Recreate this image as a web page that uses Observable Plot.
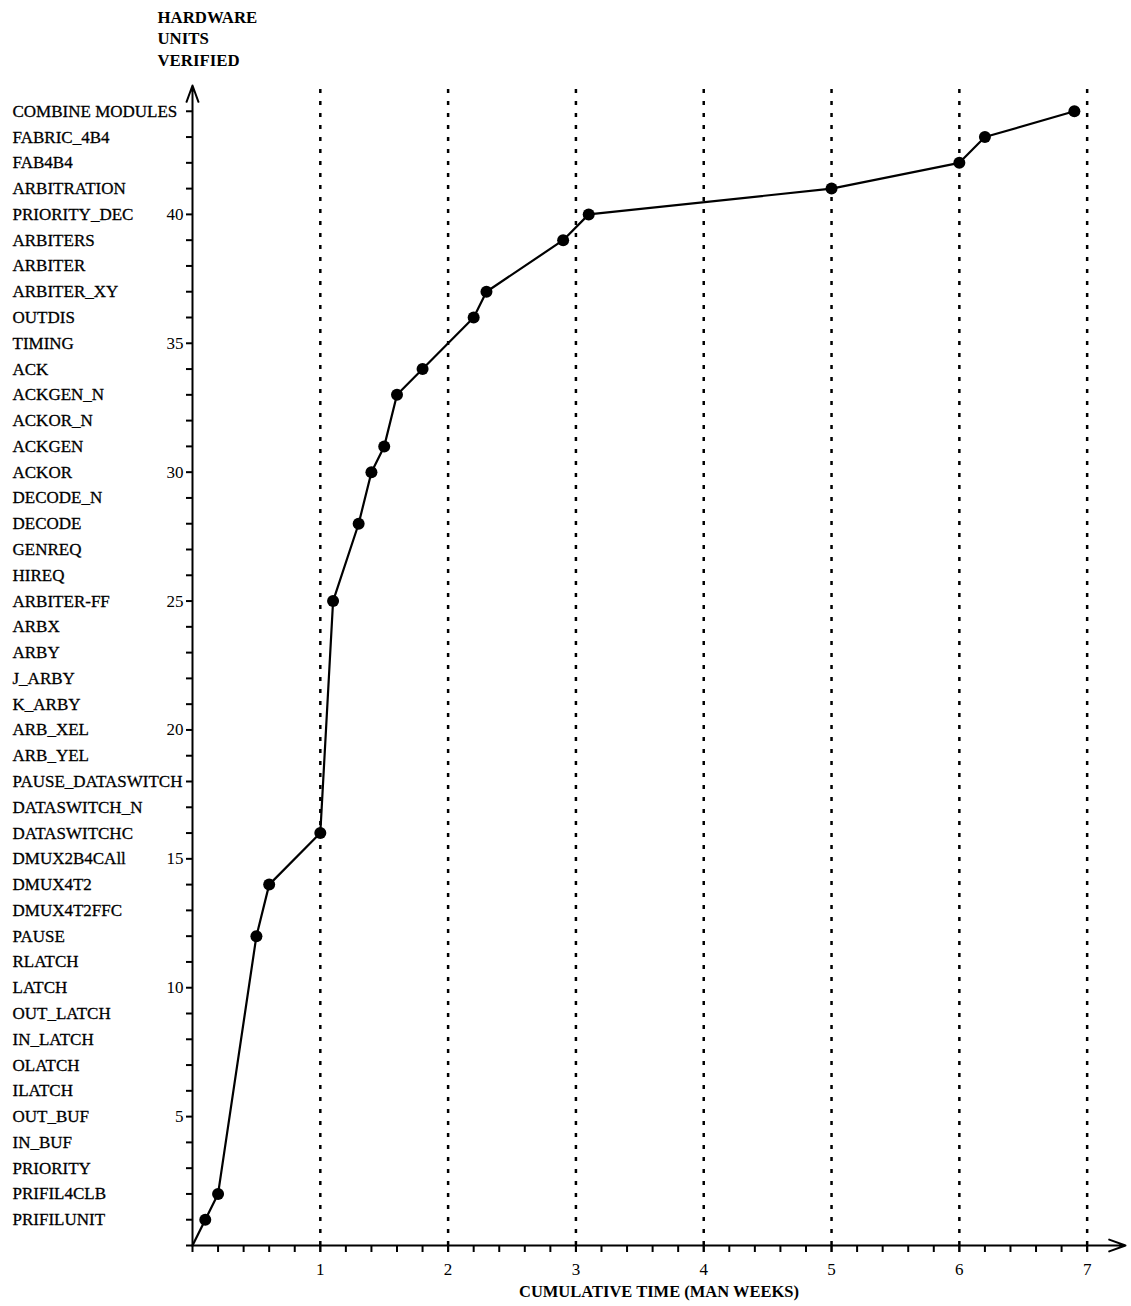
<!DOCTYPE html>
<html>
<head>
<meta charset="utf-8">
<script src="https://cdn.jsdelivr.net/npm/d3@7"></script>
<script src="https://cdn.jsdelivr.net/npm/@observablehq/plot@0.6"></script>
<style>
  body { margin: 0; background: #fff; }
  #chart svg { display: block; }
</style>
</head>
<body>
<div id="chart"></div>
<script>
// cumulative time (man weeks) and hardware units verified
const weeks = [0, 0.1, 0.2, 0.5, 0.6, 1.0, 1.1, 1.3, 1.4, 1.5, 1.6, 1.8, 2.2, 2.3, 2.9, 3.1, 5.0, 6.0, 6.2, 6.9];
const unitsVerified = [0, 1, 2, 12, 14, 16, 25, 28, 30, 31, 33, 34, 36, 37, 39, 40, 41, 42, 43, 44];

// hardware unit names, unit 1 upward
const unitNames = [
  "PRIFILUNIT", "PRIFIL4CLB", "PRIORITY", "IN_BUF", "OUT_BUF",
  "ILATCH", "OLATCH", "IN_LATCH", "OUT_LATCH", "LATCH",
  "RLATCH", "PAUSE", "DMUX4T2FFC", "DMUX4T2", "DMUX2B4CAll",
  "DATASWITCHC", "DATASWITCH_N", "PAUSE_DATASWITCH", "ARB_YEL", "ARB_XEL",
  "K_ARBY", "J_ARBY", "ARBY", "ARBX", "ARBITER-FF",
  "HIREQ", "GENREQ", "DECODE", "DECODE_N", "ACKOR",
  "ACKGEN", "ACKOR_N", "ACKGEN_N", "ACK", "TIMING",
  "OUTDIS", "ARBITER_XY", "ARBITER", "ARBITERS", "PRIORITY_DEC",
  "ARBITRATION", "FAB4B4", "FABRIC_4B4", "COMBINE MODULES"
];

const xTickLabels = [1, 2, 3, 4, 5, 6, 7];
const xMinorTicks = d3.range(0, 36).map(i => i / 5);
const yTicks = d3.range(0, 45);
const yLabelTicks = [5, 10, 15, 20, 25, 30, 35, 40];
const xMax = 7.3;
const yMax = 45;
const titleText = "HARDWARE\nUNITS\nVERIFIED";
const xTitle = "CUMULATIVE TIME (MAN WEEKS)";

const data = weeks.map((w, i) => ({w, u: unitsVerified[i]}));
const nameRows = unitNames.map((name, i) => ({name, u: i + 1}));

const chart = Plot.plot({
  width: 1131,
  height: 1306,
  marginLeft: 192,
  marginRight: 6,
  marginTop: 85,
  marginBottom: 61,
  style: {fontFamily: "'Liberation Serif', 'Times New Roman', serif", fontSize: "17px", color: "black", background: "white"},
  x: {domain: [0, xMax], label: null},
  y: {domain: [0, yMax], label: null},
  marks: [
    Plot.ruleX(xTickLabels, {y1: 0, y2: yMax, stroke: "black", strokeWidth: 2.5, strokeDasharray: "4,8"}),
    Plot.axisY({ticks: yTicks, tickSize: 6, tickPadding: 3, strokeWidth: 2, fontSize: 17,
      tickFormat: d => yLabelTicks.includes(d) ? String(d) : "", label: null}),
    Plot.axisX({ticks: xMinorTicks, tickSize: 7, strokeWidth: 2, tickFormat: () => "", label: null}),
    Plot.axisX({ticks: xTickLabels, tickSize: 7, tickPadding: 10, strokeWidth: 2, fontSize: 17, label: null}),
    Plot.arrow([{x1: 0, y1: 0, x2: 0, y2: yMax}], {x1: "x1", y1: "y1", x2: "x2", y2: "y2",
      stroke: "black", strokeWidth: 2, headAngle: 40, headLength: 13}),
    Plot.arrow([{x1: 0, y1: 0, x2: xMax, y2: 0}], {x1: "x1", y1: "y1", x2: "x2", y2: "y2",
      stroke: "black", strokeWidth: 2, headAngle: 40, headLength: 13}),
    Plot.text(nameRows, {y: "u", text: "name", frameAnchor: "left", textAnchor: "start", dx: -180,
      fontSize: 17, fill: "black", stroke: "black", strokeWidth: 0.3}),
    Plot.line(data, {x: "w", y: "u", stroke: "black", strokeWidth: 2.2}),
    Plot.dot(data.slice(1), {x: "w", y: "u", r: 6, fill: "black", stroke: "none"}),
    Plot.text([titleText], {frameAnchor: "top-left", textAnchor: "start", lineAnchor: "top",
      dx: -35, dy: -78, fontWeight: "bold", fontSize: 16.8, lineHeight: 1.28, fill: "black"}),
    Plot.text([xTitle], {frameAnchor: "bottom", lineAnchor: "middle", dy: 46,
      fontWeight: "bold", fontSize: 16.5, fill: "black"})
  ]
});
document.getElementById("chart").appendChild(chart);
</script>
</body>
</html>
